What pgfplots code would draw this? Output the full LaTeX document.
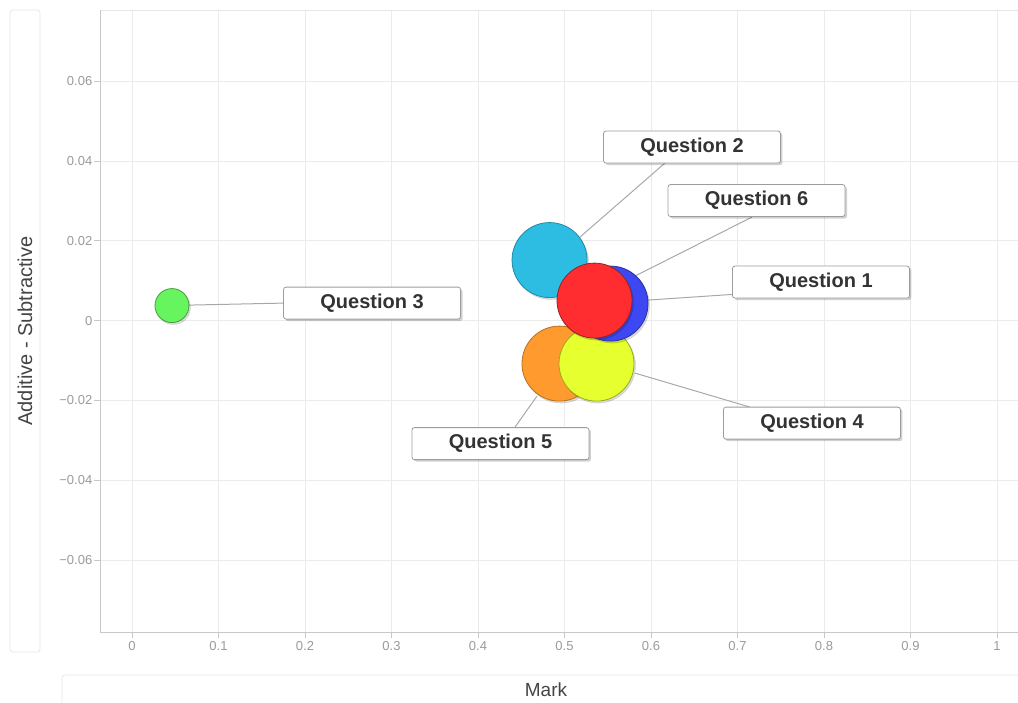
\documentclass[border=0pt]{standalone}
\usepackage{fontspec}
\setmainfont{Liberation Sans}
\usepackage{pgfplots}
\pgfplotsset{compat=1.18}
\usetikzlibrary{shadows}

\definecolor{gridgray}{HTML}{EBEBEB}
\definecolor{axisgray}{HTML}{C8C8C8}
\definecolor{boxgray}{HTML}{E6E6E6}
\definecolor{tickgray}{HTML}{9A9A9A}
\definecolor{titlegray}{HTML}{444444}
\definecolor{labeltext}{HTML}{333333}
\definecolor{labelborder}{HTML}{9C9C9C}
\definecolor{connector}{HTML}{A8A8A8}
% bubble fills and edges
\definecolor{qthree}{HTML}{66F55E}  \definecolor{qthreeE}{HTML}{4A9A3E}
\definecolor{qfive}{HTML}{FF9A2E}   \definecolor{qfiveE}{HTML}{B8701E}
\definecolor{qfour}{HTML}{E6FF2E}   \definecolor{qfourE}{HTML}{9AAA1E}
\definecolor{qtwo}{HTML}{2EBDE2}    \definecolor{qtwoE}{HTML}{1F8AA6}
\definecolor{qone}{HTML}{3D48F2}    \definecolor{qoneE}{HTML}{2A309E}
\definecolor{qsix}{HTML}{FF2D2F}    \definecolor{qsixE}{HTML}{8E2626}

\pgfplotsset{
 shade/.style={only marks, mark=*, mark size=#1,
   mark options={fill=black, draw=none, opacity=0.14, xshift=1.5pt, yshift=-2pt}},
 bub/.style n args={3}{only marks, mark=*, mark size=#1,
   mark options={fill=#2, draw=#3, line width=0.8pt}},
}
\tikzset{qlabel/.style={draw=labelborder, fill=white, rounded corners=2.5pt,
   minimum width=177pt, minimum height=32pt, inner sep=0pt, line width=0.8pt,
   drop shadow={shadow xshift=2pt, shadow yshift=-2pt, fill=black, opacity=0.18},
   font=\fontsize{20}{24}\selectfont\bfseries, text=labeltext}}

\begin{document}
\begin{tikzpicture}
\useasboundingbox (0pt,0pt) rectangle (1018pt,702pt);
% axis title boxes
\draw[draw=boxgray, rounded corners=3pt, line width=0.8pt] (10pt,50pt) rectangle (40pt,692pt);
\node[rotate=90, font=\fontsize{20}{24}\selectfont, text=titlegray] at (25pt,371pt) {Additive - Subtractive};
\draw[draw=boxgray, rounded corners=3pt, line width=0.8pt] (62pt,27pt) rectangle (1040pt,-10pt);
\node[font=\fontsize{19}{22}\selectfont, text=titlegray] at (546pt,12pt) {Mark};

\begin{axis}[
 at={(100pt,70pt)}, anchor=south west,
 scale only axis, width=918pt, height=622pt,
 xmin=-0.037, xmax=1.0243, ymin=-0.0780, ymax=0.0778,
 scaled ticks=false,
 xtick={0,0.1,0.2,0.3,0.4,0.5,0.6,0.7,0.8,0.9,1},
 xticklabels={0,0.1,0.2,0.3,0.4,0.5,0.6,0.7,0.8,0.9,1},
 ytick={-0.06,-0.04,-0.02,0,0.02,0.04,0.06},
 yticklabels={−0.06,−0.04,−0.02,0,0.02,0.04,0.06},
 grid=major, major grid style={draw=gridgray, line width=0.8pt},
 axis line style={draw=boxgray, line width=0.8pt},
 tick pos=left, tick align=outside, major tick length=6pt,
 tick style={draw=axisgray, line width=0.8pt},
 tick label style={font=\fontsize{13}{15}\selectfont, text=tickgray},
 yticklabel style={inner xsep=1.5pt},
]
% Question 3
\addplot[shade=17pt] coordinates {(0.0462,0.00376)};
\addplot[bub={17pt}{qthree}{qthreeE}] coordinates {(0.0462,0.00376)};
% Question 5
\addplot[shade=37.5pt] coordinates {(0.4942,-0.01077)};
\addplot[bub={37.5pt}{qfive}{qfiveE}] coordinates {(0.4942,-0.01077)};
% Question 4
\addplot[shade=37.5pt] coordinates {(0.5370,-0.01077)};
\addplot[bub={37.5pt}{qfour}{qfourE}] coordinates {(0.5370,-0.01077)};
% Question 2
\addplot[shade=37.5pt] coordinates {(0.4827,0.01516)};
\addplot[bub={37.5pt}{qtwo}{qtwoE}] coordinates {(0.4827,0.01516)};
% Question 1
\addplot[shade=37.5pt] coordinates {(0.5532,0.00426)};
\addplot[bub={37.5pt}{qone}{qoneE}] coordinates {(0.5532,0.00426)};
% Question 6
\addplot[shade=37.5pt] coordinates {(0.5347,0.00501)};
\addplot[bub={37.5pt}{qsix}{qsixE}] coordinates {(0.5347,0.00501)};

% darker left and bottom axis lines
\draw[axisgray, line width=0.8pt] (rel axis cs:0,1) -- (rel axis cs:0,0) -- (rel axis cs:1,0);

% connectors
\draw[connector, line width=1pt] (axis cs:0.5179,0.02092) -- (axis cs:0.6254,0.04121);
\draw[connector, line width=1pt] (axis cs:0.5723,0.01015) -- (axis cs:0.7168,0.02593);
\draw[connector, line width=1pt] (axis cs:0.5965,0.00514) -- (axis cs:0.7168,0.00689);
\draw[connector, line width=1pt] (axis cs:0.0659,0.00388) -- (axis cs:0.1746,0.00438);
\draw[connector, line width=1pt] (axis cs:0.5815,-0.01315) -- (axis cs:0.7145,-0.02167);
\draw[connector, line width=1pt] (axis cs:0.4682,-0.01892) -- (axis cs:0.4428,-0.02668);

% data labels
\node[qlabel] at (axis cs:0.6474,0.04347) {Question 2};
\node[qlabel] at (axis cs:0.7220,0.03007) {Question 6};
\node[qlabel] at (axis cs:0.7965,0.00965) {Question 1};
\node[qlabel] at (axis cs:0.2775,0.00438) {Question 3};
\node[qlabel] at (axis cs:0.7861,-0.02568) {Question 4};
\node[qlabel] at (axis cs:0.4260,-0.03082) {Question 5};
\end{axis}
\end{tikzpicture}
\end{document}
